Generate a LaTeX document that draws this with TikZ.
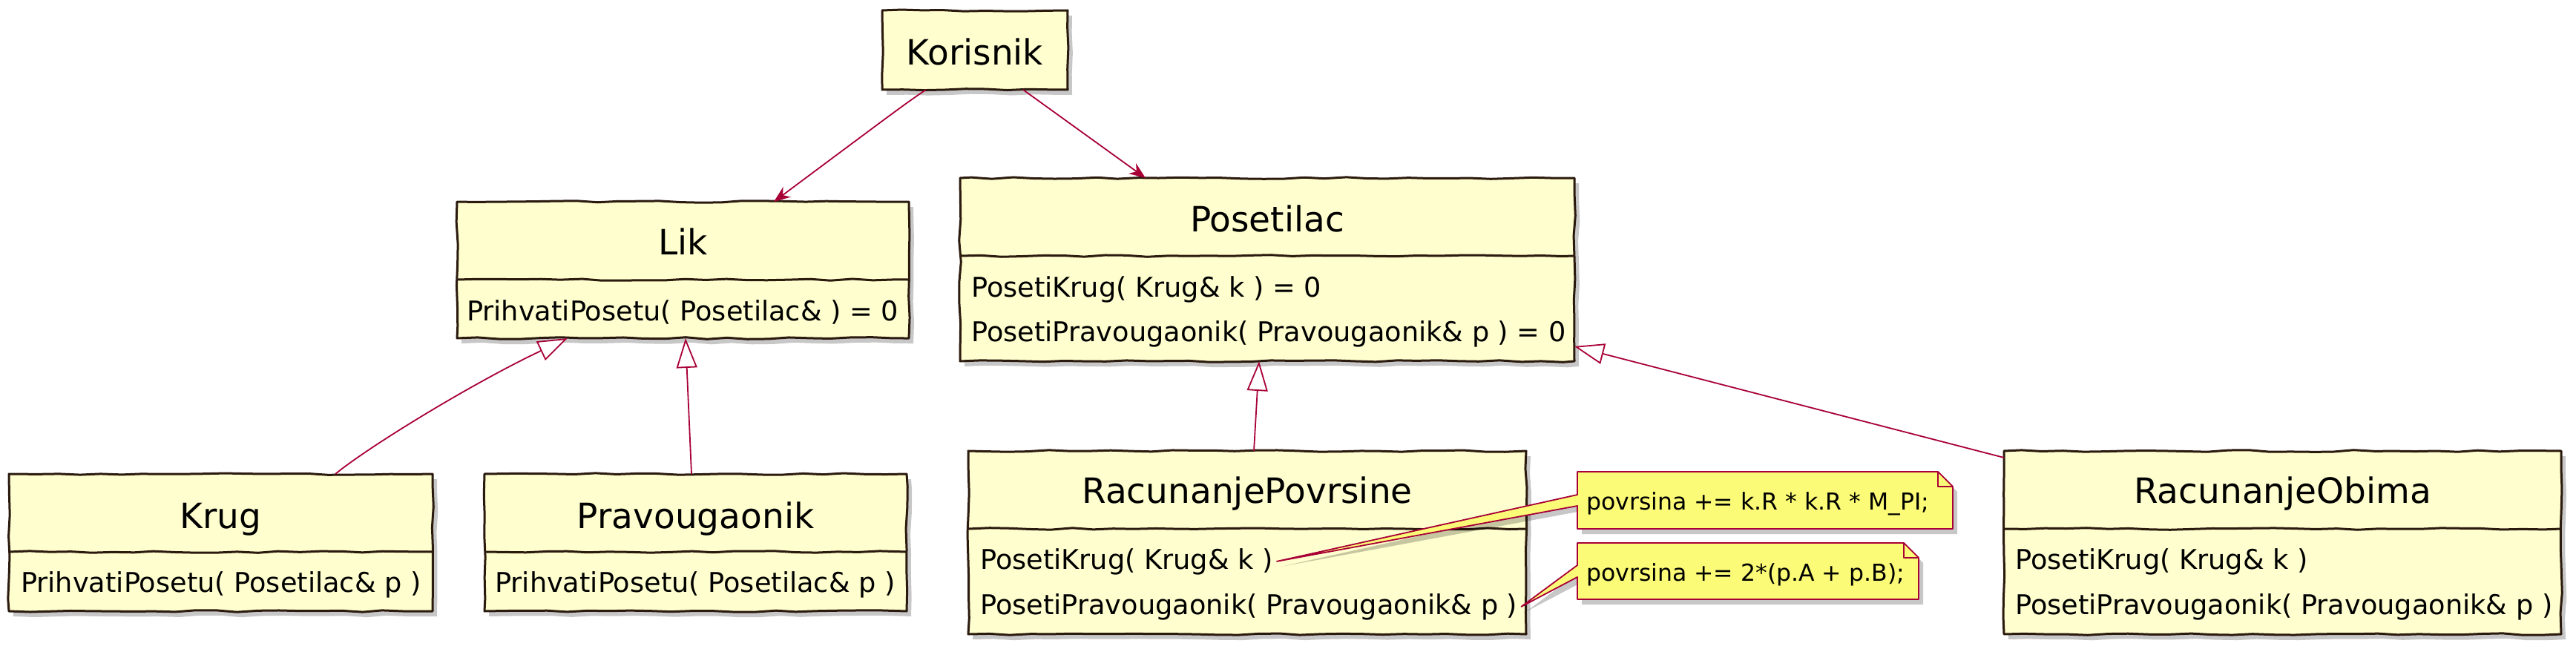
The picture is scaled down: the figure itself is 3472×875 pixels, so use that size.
\documentclass[tikz,border=0pt]{standalone}
\usepackage{fontspec}
\setmainfont{DejaVu Sans}
\usetikzlibrary{arrows.meta,calc,shadows,decorations.pathmorphing}
\definecolor{boxfill}{HTML}{FEFECE}
\definecolor{boxline}{HTML}{2B1A0E}
\definecolor{crim}{HTML}{A80036}
\definecolor{notefill}{HTML}{FBFB77}
\pgfmathsetseed{7}
\tikzset{
 shd/.style={drop shadow={shadow xshift=6pt, shadow yshift=-7pt, fill=black, opacity=0.22}},
 wob/.style={decorate, decoration={random steps, segment length=28pt, amplitude=1.3pt}},
 cls/.style={draw=boxline, fill=boxfill, line width=3pt, line join=round, inner sep=0pt, outer sep=0pt, rectangle, shd, wob},
 sepline/.style={draw=boxline, line width=3pt, line join=round, wob},
 ttl/.style={anchor=base, inner sep=0pt, font=\fontsize{47}{56}\selectfont},
 mth/.style={anchor=base west, inner sep=0pt, font=\fontsize{36.7}{44}\selectfont},
 ntx/.style={anchor=base west, inner sep=0pt, font=\fontsize{31.5}{38}\selectfont},
 conn/.style={draw=crim, line width=1.8pt},
 assoc/.style={conn, -{Stealth[length=22pt,width=17pt,inset=7pt]}},
 inherit/.style={conn, -{Triangle[length=40pt,width=28pt,fill=white]}},
 notebody/.style={draw=crim, fill=notefill, line width=1.8pt, line join=round},
 blank/.style={inner sep=0pt, outer sep=0pt},
}
\begin{document}
\begin{tikzpicture}[x=1pt,y=-1pt]
\useasboundingbox (0,0) rectangle (3472,875);
\fill[white] (0,0) rectangle (3472,875);

% boxes
\node[cls, minimum width=250pt, minimum height=107pt] (kor) at (1314,67.5) {};
\node[cls, minimum width=609pt, minimum height=184pt] (lik) at (920.5,364) {};
\node[cls, minimum width=828pt, minimum height=247pt] (pos) at (1708,363.5) {};
\node[cls, minimum width=571pt, minimum height=185pt] (krug) at (297.5,731.5) {};
\node[cls, minimum width=569pt, minimum height=185pt] (prav) at (937.5,731.5) {};
\node[cls, minimum width=752pt, minimum height=247pt] (rp) at (1681,731.5) {};
\node[cls, minimum width=751pt, minimum height=247pt] (ro) at (3076.5,731.5) {};

% separators
\foreach \b in {lik,pos,krug,prav,rp,ro}{
  \draw[sepline] ([yshift=-105pt]\b.north west) -- ([yshift=-105pt]\b.north east);
}

% texts
\node[ttl] (korT) at (1314,88) {Korisnik};
\node[ttl] (likT) at (920.5,343) {Lik};
\node[mth] (likM) at (629,432) {PrihvatiPosetu( Posetilac\& ) = 0};
\node[ttl] (posT) at (1708,312) {Posetilac};
\node[mth] (posM1) at (1309,400) {PosetiKrug( Krug\& k ) = 0};
\node[mth] (posM2) at (1309,460) {PosetiPravougaonik( Pravougaonik\& p ) = 0};
\node[ttl] (krugT) at (297.5,712) {Krug};
\node[mth] (krugM) at (28,798) {PrihvatiPosetu( Posetilac\& p )};
\node[ttl] (pravT) at (937.5,712) {Pravougaonik};
\node[mth] (pravM) at (667,798) {PrihvatiPosetu( Posetilac\& p )};
\node[ttl] (rpT) at (1681,678) {RacunanjePovrsine};
\node[mth] (rpM1) at (1321,767) {PosetiKrug( Krug\& k )};
\node[mth] (rpM2) at (1321,828) {PosetiPravougaonik( Pravougaonik\& p )};
\node[ttl] (roT) at (3076.5,678) {RacunanjeObima};
\node[mth] (roM1) at (2716,767) {PosetiKrug( Krug\& k )};
\node[mth] (roM2) at (2716,828) {PosetiPravougaonik( Pravougaonik\& p )};

% connectors
\draw[assoc] ([xshift=59pt]kor.south west) .. controls (1220,140) .. ([xshift=427pt]lik.north west);
\draw[assoc] ([xshift=190pt]kor.south west) -- ([xshift=250pt]pos.north west);
\draw[inherit] ([xshift=440pt]krug.north west) .. controls (500,600) and (640,515) .. ([xshift=149pt]lik.south west);
\draw[inherit] ([xshift=279pt]prav.north west) -- ([xshift=308pt]lik.south west);
\draw[inherit] ([xshift=385pt]rp.north west) -- ([xshift=403pt]pos.south west);
\draw[inherit] ([yshift=-9pt]ro.north west) -- ([yshift=20pt]pos.south east);

% notes
\node[blank, minimum width=506pt, minimum height=77pt] (n1) at (2379,674.5) {};
\node[blank, minimum width=460pt, minimum height=76pt] (n2) at (2356,770) {};
\coordinate (tip1) at ([xshift=5pt]rpM1.east);
\coordinate (tip2) at ([xshift=5pt]rpM2.east);
\draw[notebody, shd] (n1.north west) -- ([xshift=-20pt]n1.north east) -- ([yshift=-20pt]n1.north east)
  -- (n1.south east) -- (n1.south west) -- ([yshift=-46pt]n1.north west) -- (tip1)
  -- ([yshift=-31pt]n1.north west) -- cycle;
\draw[notebody, fill=none] ([xshift=-20pt]n1.north east) -- ([xshift=-20pt,yshift=-20pt]n1.north east) -- ([yshift=-20pt]n1.north east);
\draw[notebody, shd] (n2.north west) -- ([xshift=-20pt]n2.north east) -- ([yshift=-20pt]n2.north east)
  -- (n2.south east) -- (n2.south west) -- ([yshift=-46pt]n2.north west) -- (tip2)
  -- ([yshift=-30pt]n2.north west) -- cycle;
\draw[notebody, fill=none] ([xshift=-20pt]n2.north east) -- ([xshift=-20pt,yshift=-20pt]n2.north east) -- ([yshift=-20pt]n2.north east);
\node[ntx] (n1T) at (2138,687) {povrsina += k.R * k.R * M\_PI;};
\node[ntx] (n2T) at (2138,783) {povrsina += 2*(p.A + p.B);};
\end{tikzpicture}
\end{document}
